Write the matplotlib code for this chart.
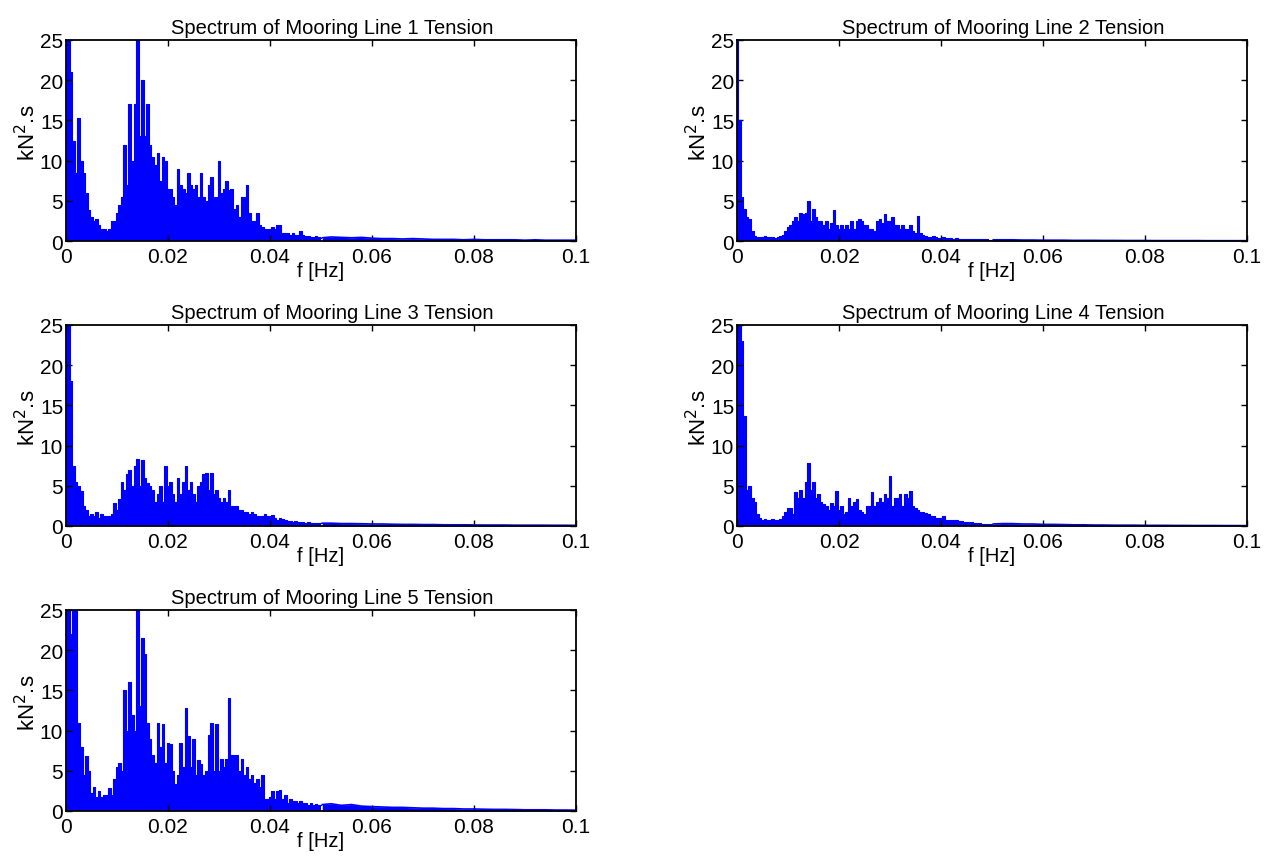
import numpy as np
import matplotlib
matplotlib.use('Agg')
import matplotlib.pyplot as plt

plt.rcParams['font.family'] = ['Liberation Sans', 'DejaVu Sans']

# frequency grids [Hz]: fine up to 0.05, coarser tail up to 0.1
fLow = np.arange(101) * 0.0005
fTail = 0.052 + np.arange(25) * 0.002

# spectra [kN^2.s]
line1Low = [40, 30, 21, 12.5, 8.5, 15.3, 10, 8.5, 6, 3.8,
            3, 2.5, 2.7, 2, 1.5, 1.5, 1.3, 1.5, 2.5, 2.5,
            3.5, 4.5, 5.5, 12, 7, 17, 10, 17, 25, 13,
            20, 13, 17, 12, 10.5, 9.5, 11, 7.5, 10.5, 10,
            6.5, 6.5, 5.5, 4.5, 9, 7, 6.5, 6, 8.5, 7,
            6.5, 7, 5.5, 8.5, 5.5, 5, 7, 8, 5.5, 5.5,
            10, 6, 6.5, 7.5, 6.3, 6.5, 4, 4.5, 3, 5.5,
            5.5, 7, 3.5, 2.5, 2.5, 3.5, 2, 1.8, 1.5, 1.5,
            1.5, 1.8, 1.5, 2, 2, 1.0, 1.0, 1.0, 0.8, 1,
            0.8, 0.8, 1.2, 0.7, 0.6, 0.6, 0.5, 0.5, 0.6, 0.5, 0.4]
line1Tail = [0.5, 0.45, 0.4, 0.45, 0.35, 0.3, 0.3, 0.25, 0.3, 0.25, 0.2, 0.2, 0.2,
             0.15, 0.2, 0.15, 0.15, 0.15, 0.15, 0.1, 0.15, 0.1, 0.1, 0.1, 0.1]

line2Low = [40, 15, 5.5, 4, 3, 2.7, 1.2, 0.6, 0.5, 0.5,
            0.5, 0.6, 0.5, 0.5, 0.5, 0.4, 0.5, 0.6, 0.8, 1.2,
            1.8, 2, 2.5, 3, 2.5, 3.5, 3.3, 3.5, 5, 2.5,
            4, 3, 2.5, 2.5, 2, 2.5, 1.5, 2.2, 3.8, 2,
            1.5, 2, 1.5, 2, 1.5, 2.5, 1.5, 2.5, 2.7, 2.5,
            2, 2, 1.5, 1.5, 1.3, 2.5, 2.7, 2.3, 3.3, 2.5,
            2.5, 3, 2, 2, 1.5, 2, 1.5, 1.5, 2, 1.2,
            1, 3.1, 1, 0.7, 0.6, 0.5, 0.5, 0.6, 0.5, 0.4,
            0.4, 0.5, 0.4, 0.4, 0.35, 0.3, 0.35, 0.3, 0.3, 0.3,
            0.25, 0.3, 0.25, 0.25, 0.2, 0.25, 0.2, 0.2, 0.2, 0.15, 0.15]
line2Tail = [0.15, 0.15, 0.12, 0.12, 0.1, 0.1, 0.1, 0.08, 0.08, 0.08, 0.07, 0.07, 0.06,
             0.06, 0.06, 0.05, 0.05, 0.05, 0.05, 0.05, 0.04, 0.04, 0.04, 0.04, 0.04]

line3Low = [40, 30, 18, 7.5, 5.5, 5, 4.3, 2.5, 2, 1.2,
            1.5, 1.2, 1.8, 1, 1.5, 1.2, 1.3, 1.3, 1.5, 2.8,
            2, 3.3, 5.5, 4.5, 6.5, 7, 5, 7.5, 8.3, 5,
            8.2, 6, 5.3, 5, 4.5, 3, 4, 5, 3, 7.5,
            5, 5.5, 4, 3, 6, 4, 5.5, 7.5, 4.5, 5.5,
            4, 3, 5, 5.5, 6.5, 6.6, 4.5, 6.6, 4, 4.5,
            3.5, 3, 3.5, 3, 4.5, 2.5, 2.5, 2.5, 2, 2,
            1.8, 1.8, 1.5, 1.7, 1.5, 1.2, 1.2, 1.2, 1.5, 1.2,
            1.2, 1.4, 1, 0.8, 1, 0.9, 0.7, 0.6, 0.6, 0.5,
            0.6, 0.5, 0.5, 0.45, 0.4, 0.45, 0.4, 0.4, 0.35, 0.4, 0.35]
line3Tail = [0.35, 0.3, 0.3, 0.28, 0.25, 0.25, 0.22, 0.2, 0.2, 0.18, 0.18, 0.15, 0.15,
             0.15, 0.13, 0.12, 0.12, 0.12, 0.1, 0.1, 0.1, 0.1, 0.09, 0.09, 0.08]

line4Low = [40, 26, 23, 13.7, 4.5, 5, 3.5, 3, 1.5, 1,
            0.8, 0.9, 0.8, 0.8, 0.9, 0.8, 0.8, 0.9, 1.2, 1.8,
            2.2, 2.3, 1.5, 4.2, 3.5, 4.5, 3.5, 5.5, 7.8, 4.5,
            5.5, 3.5, 4, 3, 2.7, 2.5, 2, 2.8, 2.5, 4.3,
            2, 2.5, 1.5, 1.8, 3.5, 2.5, 3, 3.3, 2, 1.8,
            1.5, 2.5, 2.5, 4.2, 2.5, 3, 3.5, 3, 4, 3.5,
            6.2, 2.5, 3.5, 3.5, 4, 2.5, 4, 3.5, 4.3, 2.5,
            2.2, 2, 1.8, 1.8, 1.6, 1.5, 1.3, 1.2, 1, 1,
            1, 1.2, 0.8, 0.8, 0.7, 0.7, 0.7, 0.6, 0.6, 0.5,
            0.5, 0.45, 0.45, 0.4, 0.4, 0.35, 0.3, 0.3, 0.3, 0.25, 0.25]
line4Tail = [0.3, 0.3, 0.25, 0.25, 0.2, 0.2, 0.18, 0.15, 0.15, 0.12, 0.12, 0.1, 0.1,
             0.1, 0.08, 0.08, 0.08, 0.07, 0.07, 0.06, 0.06, 0.06, 0.05, 0.05, 0.05]

line5Low = [40, 30, 22, 30, 26, 11, 8, 4.5, 6.8, 5,
            2.2, 3, 1.8, 2.5, 1.8, 2, 2, 2.8, 2, 4,
            5.5, 6, 5, 15, 10, 16, 12, 10, 26, 13,
            21.5, 19.5, 11, 9, 7, 6, 11, 8, 10.8, 6,
            8.5, 8.3, 5, 3.3, 4.5, 8.5, 5.5, 12.8, 9.3, 5.5,
            9, 4.5, 6.3, 5.8, 4.5, 5, 9.5, 11, 5, 10.8,
            5, 6.5, 5.5, 6.5, 14, 7, 7, 7, 5, 6.5,
            4.5, 5.5, 4, 4.5, 3.5, 4, 3, 4.5, 1.5, 1.5,
            1.8, 2.5, 1.5, 2.5, 2.6, 1.5, 2, 1, 1.5, 1.2,
            1.3, 1, 1.2, 1, 1, 0.8, 1, 0.8, 0.9, 0.7, 0.8]
line5Tail = [0.9, 0.7, 0.8, 0.6, 0.55, 0.5, 0.45, 0.45, 0.4, 0.35, 0.35, 0.3, 0.3,
             0.25, 0.25, 0.22, 0.2, 0.2, 0.18, 0.15, 0.15, 0.15, 0.12, 0.12, 0.1]

spectra = [(line1Low, line1Tail), (line2Low, line2Tail), (line3Low, line3Tail),
           (line4Low, line4Tail), (line5Low, line5Tail)]

xTicks = [0, 0.02, 0.04, 0.06, 0.08, 0.1]
xTickLabels = ['0', '0.02', '0.04', '0.06', '0.08', '0.1']
yTicks = [0, 5, 10, 15, 20, 25]

# axes boxes in pixels (left, top), each 510 x 201
W, H = 1270, 862
boxes = [(66, 41), (737, 41), (66, 326), (737, 326), (66, 611)]

fig = plt.figure(figsize=(W / 100, H / 100), dpi=100)

for i, (low, tail) in enumerate(spectra):
    x0, y0 = boxes[i]
    ax = fig.add_axes([x0 / W, 1 - (y0 + 201) / H, 510 / W, 201 / H])

    # dense part as spikes, smooth tail as a thin ragged band
    ax.fill_between(fLow, low, 0, step='mid', color='#0000ff', lw=0)
    ax.plot(fLow, low, color='#0000ff', lw=0.8, drawstyle='steps-mid')
    fT = np.concatenate([fLow[-1:] + 0.00025, fTail])
    sT = np.concatenate([low[-1:], tail])
    ax.fill_between(fT, sT, 0, color='#0000ff', lw=0)
    ax.plot(fT, sT, color='#0000ff', lw=1.2)

    ax.set_xlim(0, 0.1)
    ax.set_ylim(0, 25)
    ax.set_xticks(xTicks)
    ax.set_xticklabels(xTickLabels)
    ax.set_yticks(yTicks)
    ax.tick_params(direction='in', top=True, right=True, length=4.5, width=1,
                   labelsize=15, pad=2)
    ax.tick_params(axis='x', pad=4)
    for sp in ax.spines.values():
        sp.set_linewidth(1.3)
    ax.set_title(f'Spectrum of Mooring Line {i + 1} Tension', fontsize=14.5,
                 pad=5, x=0.522)
    ax.set_xlabel('f [Hz]', fontsize=14.5, labelpad=-3)
    ax.set_ylabel('kN$^2$.s', fontsize=16, labelpad=-1)
    ax.yaxis.set_label_coords(-0.05, 0.545)

fig.savefig('out.png', dpi=100)
